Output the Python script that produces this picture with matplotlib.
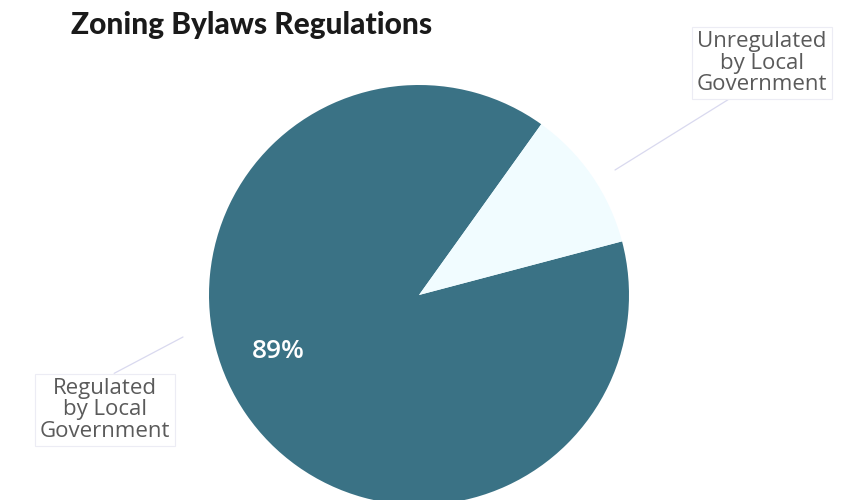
import matplotlib
matplotlib.use('Agg')
import matplotlib.pyplot as plt

# data
labels = ['Regulated\nby Local\nGovernment', 'Unregulated\nby Local\nGovernment']
shares = [89, 11]
colors = ['#3a7285', '#f1fcff']
title = 'Zoning Bylaws Regulations'

fig = plt.figure(figsize=(8.42, 5), dpi=100)
fig.patch.set_facecolor('white')
ax = fig.add_axes([0, 0, 1, 1])

# pie placed in pixel coordinates (y up)
wedges, _ = ax.pie(shares, colors=colors, startangle=54.4, counterclock=True,
                   center=(419, 205), radius=210,
                   wedgeprops=dict(linewidth=0))
ax.set_xlim(0, 842)
ax.set_ylim(0, 500)
ax.set_aspect('equal')
ax.axis('off')

# percentage inside big slice
ax.text(278, 148, f'{shares[0]}%', color='white', fontsize=19, family='Open Sans',
        fontweight='semibold', ha='center', va='center')

# title
ax.text(71, 475, title, fontsize=21.5, family='Lato', fontweight='black',
        color='#1a1a1a', ha='left', va='center')

line_col = '#d9d9ef'
box = dict(boxstyle='square,pad=0.2', facecolor='white', edgecolor='#ececf4', linewidth=0.8)

# outside labels with leader lines
ax.annotate(labels[1], xy=(615, 330), xytext=(762, 437), fontsize=16,
            family='Open Sans', color='#5a5a5a', ha='center', va='center',
            linespacing=1.02, bbox=box,
            arrowprops=dict(arrowstyle='-', color=line_col, lw=0.9,
                            shrinkA=0, shrinkB=0, relpos=(0.3, 0)))
ax.annotate(labels[0], xy=(183, 163), xytext=(105, 90), fontsize=16,
            family='Open Sans', color='#5a5a5a', ha='center', va='center',
            linespacing=1.02, bbox=box,
            arrowprops=dict(arrowstyle='-', color=line_col, lw=0.9,
                            shrinkA=0, shrinkB=0, relpos=(0.5, 1)))

fig.savefig('out.png', dpi=100)
